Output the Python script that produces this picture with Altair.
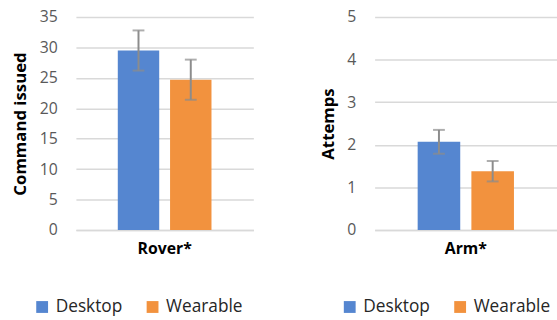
import altair as alt
import pandas as pd

devices = ["Desktop", "Wearable"]
colors = ["#5586d0", "#f2923e"]

rover_cat = "Rover*"
rover_mean = [29.5, 24.7]
rover_err = [3.3, 3.3]

arm_cat = "Arm*"
arm_mean = [2.07, 1.38]
arm_err = [0.28, 0.24]

FONT = "Open Sans"


def panel(cat, means, errs, ytitle, ymax, ystep, width, legend_x):
    df = pd.DataFrame({
        "cat": [cat] * len(devices),
        "device": devices,
        "mean": means,
        "lo": [m - e for m, e in zip(means, errs)],
        "hi": [m + e for m, e in zip(means, errs)],
    })
    base = alt.Chart(df)
    x = alt.X("cat:N", title=None,
              scale=alt.Scale(paddingInner=0, paddingOuter=0.447),
              axis=alt.Axis(labelFontWeight="bold", labelFontSize=16, labelColor="#000000",
                            labelAngle=0, domainColor="#d9d9d9", domainWidth=1.5,
                            grid=False, ticks=False, labelPadding=11, labelFont=FONT))
    xo = alt.XOffset("device:N", sort=devices,
                     scale=alt.Scale(paddingInner=0.2075, paddingOuter=0))
    yscale = alt.Scale(domain=[0, ymax], nice=False)
    yaxis = alt.Axis(values=list(range(0, ymax + 1, ystep)), domain=False, ticks=False,
                     gridColor="#d9d9d9", gridWidth=1.5, labelOverlap=False,
                     labelColor="#595959", labelFontSize=16, labelFont=FONT,
                     labelPadding=19,
                     titleFontWeight="bold", titleFontSize=17, titleColor="#000000",
                     titleFont=FONT, titlePadding=10)
    bars = base.mark_bar().encode(
        x=x, xOffset=xo,
        y=alt.Y("mean:Q", title=ytitle, scale=yscale, axis=yaxis),
        color=alt.Color("device:N", sort=devices,
                        scale=alt.Scale(domain=devices, range=colors),
                        legend=alt.Legend(orient="none", legendX=legend_x, legendY=285,
                                          direction="horizontal", title=None,
                                          symbolType="square", symbolSize=144,
                                          symbolStrokeWidth=0, symbolOpacity=1,
                                          labelFontSize=17.5, labelFont=FONT,
                                          labelColor="#262626", columnPadding=21,
                                          labelOffset=5, padding=0)),
    )
    rules = base.mark_rule(color="#8c8c8c", strokeWidth=2).encode(
        x=x, xOffset=xo, y=alt.Y("lo:Q", title=ytitle, scale=yscale, axis=yaxis), y2="hi:Q")
    cap_lo = base.mark_tick(color="#8c8c8c", thickness=2, size=12).encode(
        x=x, xOffset=xo, y=alt.Y("lo:Q", title=ytitle, scale=yscale, axis=yaxis))
    cap_hi = base.mark_tick(color="#8c8c8c", thickness=2, size=12).encode(
        x=x, xOffset=xo, y=alt.Y("hi:Q", title=ytitle, scale=yscale, axis=yaxis))
    return alt.layer(bars, rules, cap_lo, cap_hi).properties(width=width, height=216)


left = panel(rover_cat, rover_mean, rover_err, "Command issued", 35, 5, 180, -43)
right = panel(arm_cat, arm_mean, arm_err, "Attemps", 5, 1, 185, -34)

chart = alt.hconcat(left, right, spacing=66).resolve_scale(
    x="independent", y="independent", xOffset="independent"
).resolve_legend(color="independent").properties(
    padding={"left": 11, "top": 7, "right": 0, "bottom": 0}
).configure(background="white", view=alt.ViewConfig(stroke=None))

chart.save("out.html", embed_options={"renderer": "svg", "actions": False})
